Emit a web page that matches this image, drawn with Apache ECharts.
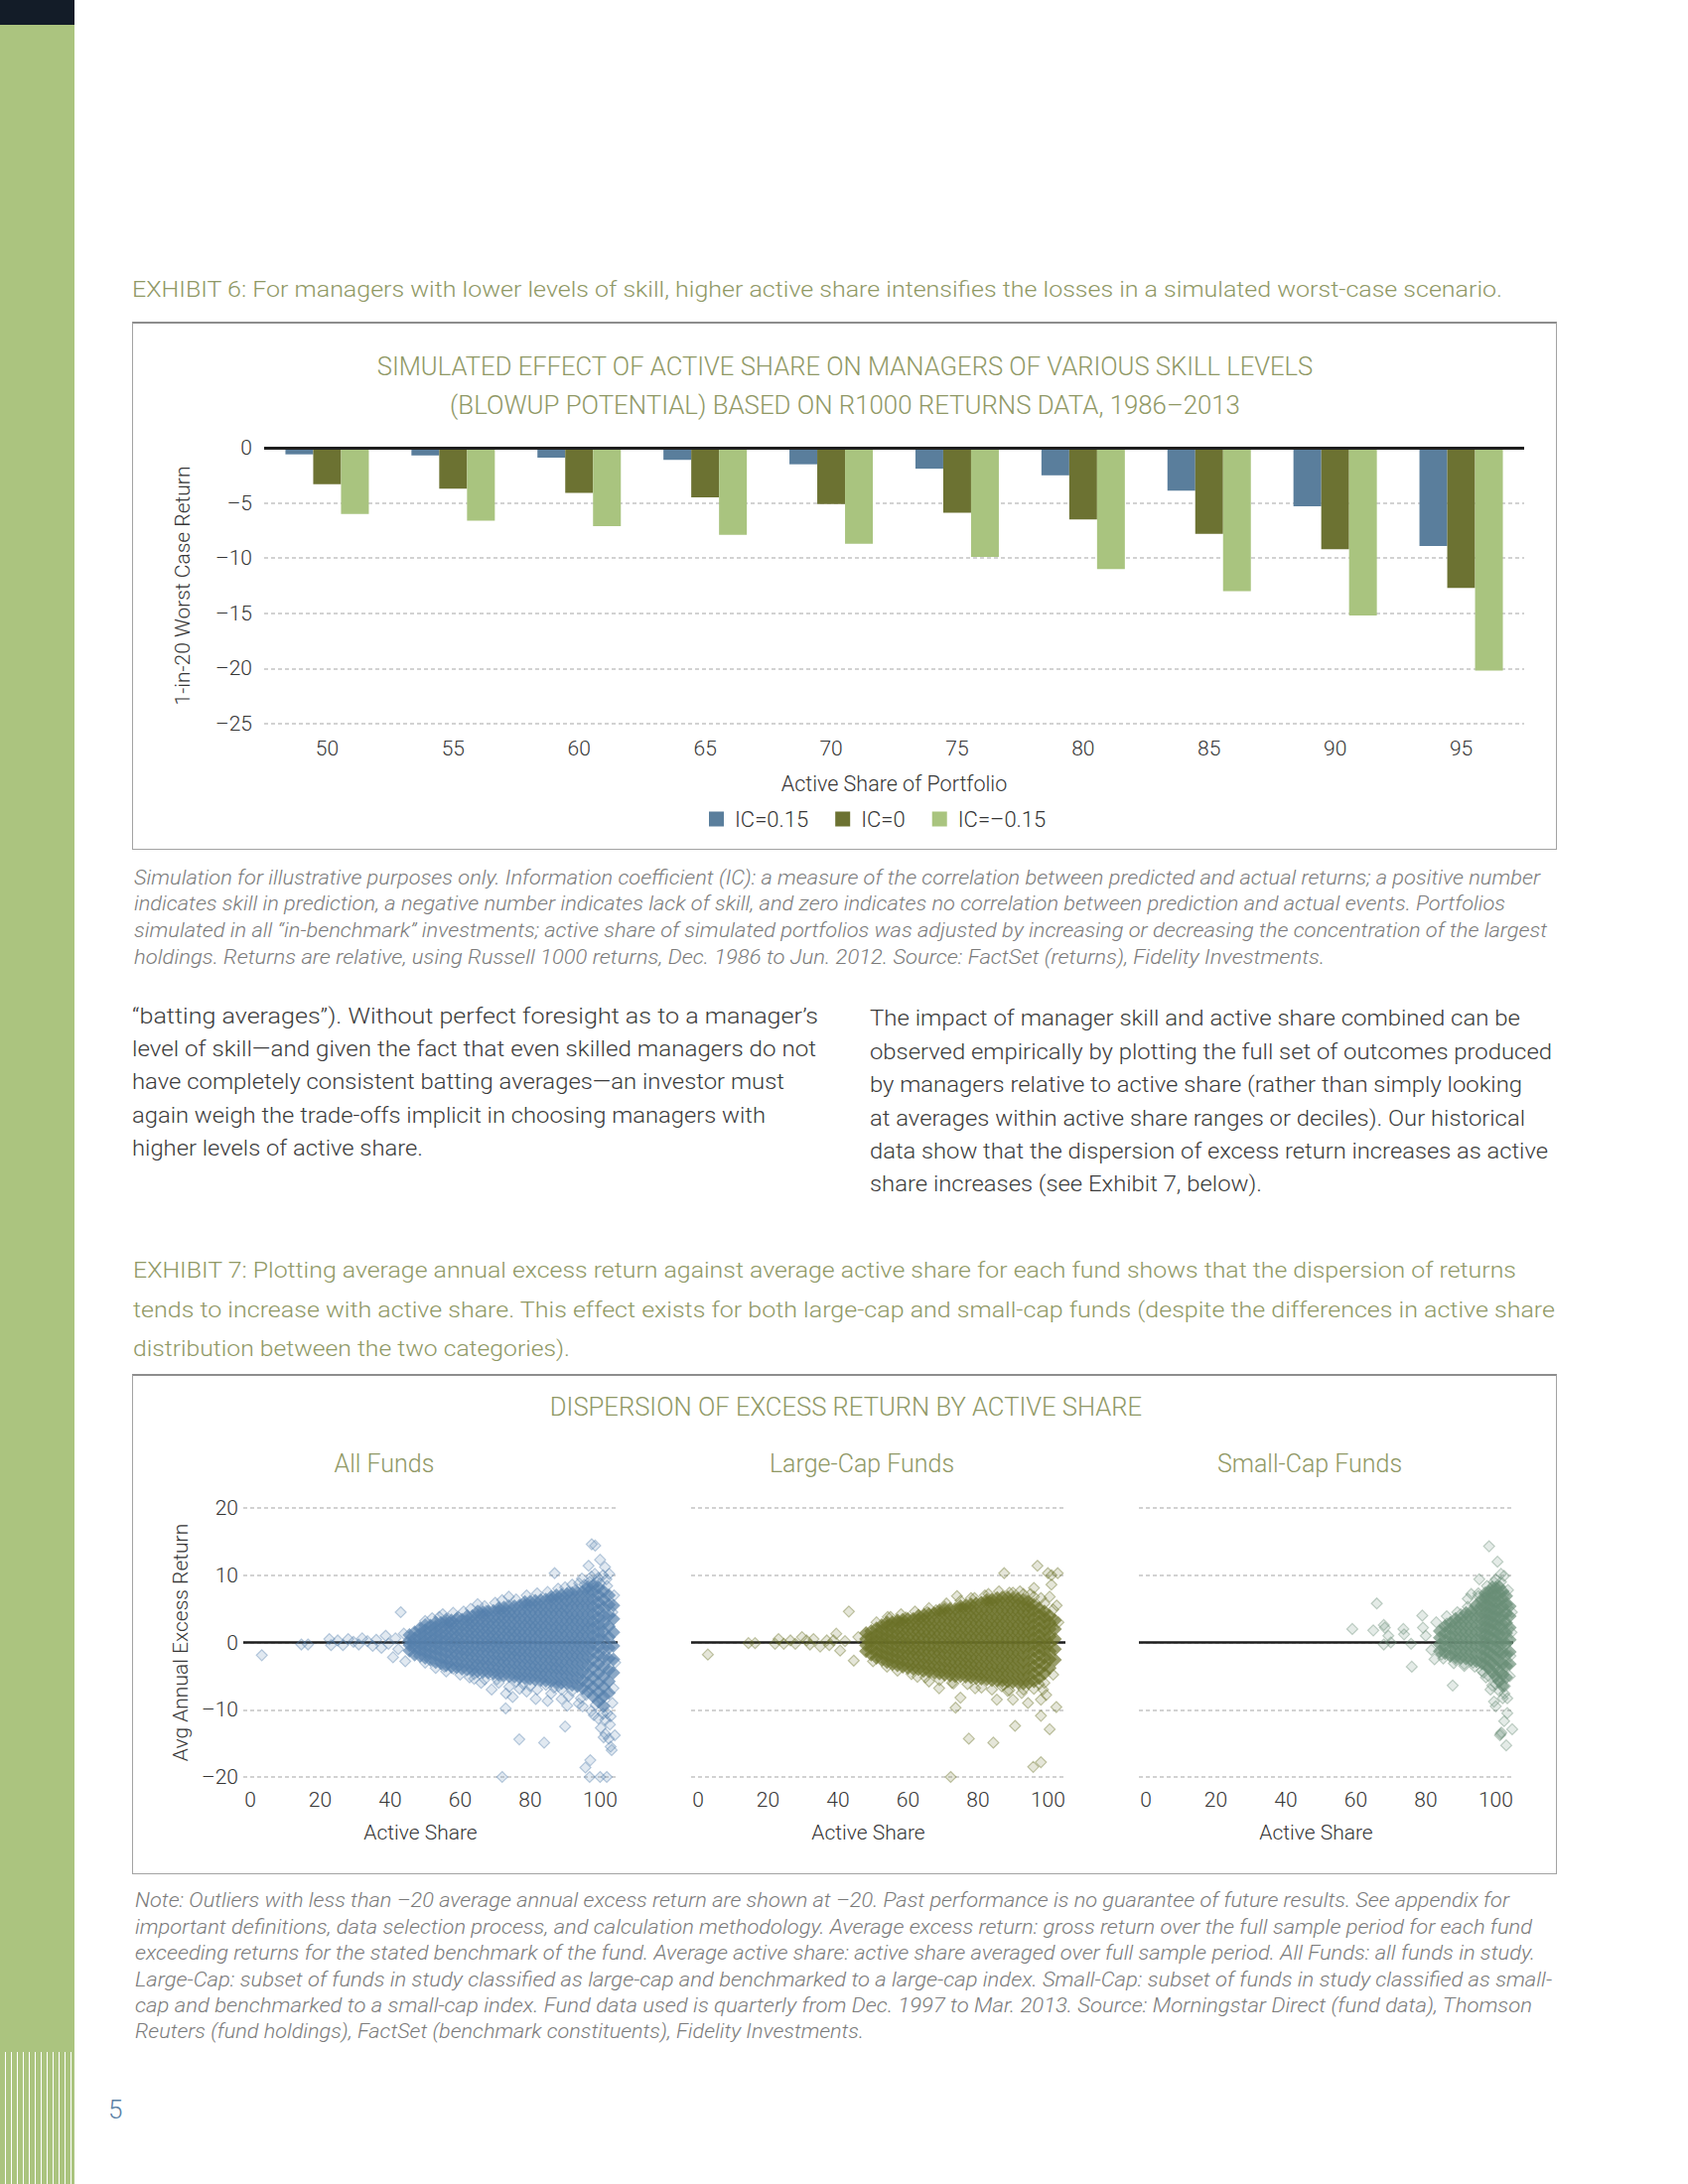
<!DOCTYPE html>
<html>
<head>
<meta charset="utf-8">
<script src="https://cdn.jsdelivr.net/npm/echarts@6/dist/echarts.min.js"></script>
<style>
html,body{margin:0;padding:0;background:#fff;}
#page{position:relative;width:1700px;height:2200px;overflow:hidden;font-family:Roboto,"Noto Sans",sans-serif;}
#chart{position:absolute;left:0;top:0;width:1700px;height:2200px;z-index:2;}
.side{position:absolute;left:0;top:0;width:75px;height:2200px;background:#abc47f;}
.sideTop{position:absolute;left:0;top:0;width:75px;height:25px;background:#131c28;}
.stripes{position:absolute;left:0;top:2067px;width:75px;height:133px;background:repeating-linear-gradient(90deg,#abc47f 0px,#abc47f 4.6px,#ffffff 4.6px,#ffffff 6px);}
.box{position:absolute;box-sizing:border-box;border:1.5px solid #a3a3a3;border-top:2px solid #8d8d8d;}
.ln{position:absolute;white-space:nowrap;transform-origin:0 50%;line-height:1;z-index:3;}
.hd{font-size:21.5px;font-weight:300;color:#8f9865;}
.cap{font-size:19.5px;font-weight:300;font-style:italic;color:#7b7b7b;}
.body{font-size:22px;font-weight:300;color:#3b3b3b;}
.pg{font-size:26px;font-weight:300;color:#5b80a5;}
</style>
</head>
<body>
<div id="page">
  <div class="side"></div>
  <div class="sideTop"></div>
  <div class="stripes"></div>
  <div class="box" style="left:133px;top:324px;width:1435px;height:532px;"></div>
  <div class="box" style="left:133px;top:1384px;width:1435px;height:504px;"></div>
  <div id="chart"></div>
</div>
<script>
// ---------------- DATA: Exhibit 6 (bar chart) ----------------
const categories = ['50', '55', '60', '65', '70', '75', '80', '85', '90', '95'];
const seriesNames = ['IC=0.15', 'IC=0', 'IC=\u20130.15'];
const icPositive = [-0.6, -0.7, -0.9, -1.1, -1.5, -1.9, -2.5, -3.9, -5.3, -8.9];
const icZero = [-3.3, -3.7, -4.1, -4.5, -5.1, -5.9, -6.5, -7.8, -9.2, -12.7];
const icNegative = [-6.0, -6.6, -7.1, -7.9, -8.7, -9.9, -11.0, -13.0, -15.2, -20.2];
const barYTicks = { min: -25, max: 0, interval: 5 };

// ---------------- DATA: Exhibit 7 (scatter panels) ----------------
const scatterXTicks = [0, 20, 40, 60, 80, 100];
const panelTitles = ['All Funds', 'Large-Cap Funds', 'Small-Cap Funds'];

// dense core read column by column: [active share, [excess returns...]]
const allFundsCore = [
  [45.5, [-1.2, -0.4, 0.3, 1.1]],
  [47.0, [-1.8, -0.9, -0.2, 0.6, 1.5]],
  [48.5, [-2.0, -1.1, -0.3, 0.5, 1.3, 2.1]],
  [50.0, [-2.3, -1.4, -0.6, 0.2, 1.0, 1.8, 2.6]],
  [51.5, [-2.6, -1.7, -0.8, 0.1, 0.9, 1.7, 2.5]],
  [53.0, [-2.9, -1.9, -1.0, -0.2, 0.7, 1.5, 2.3, 3.0]],
  [54.5, [-3.1, -2.2, -1.3, -0.4, 0.4, 1.2, 2.1, 2.9]],
  [56.0, [-3.4, -2.5, -1.5, -0.6, 0.3, 1.1, 2.0, 2.8, 3.4]],
  [57.5, [-3.6, -2.6, -1.7, -0.8, 0.1, 1.0, 1.8, 2.7, 3.3]],
  [59.0, [-3.7, -2.8, -1.8, -0.9, 0.0, 0.9, 1.8, 2.6, 3.5]],
  [60.5, [-3.9, -3.0, -2.0, -1.1, -0.2, 0.7, 1.6, 2.5, 3.4]],
  [62.0, [-4.0, -3.1, -2.1, -1.2, -0.3, 0.6, 1.5, 2.4, 3.2, 3.9]],
  [63.5, [-4.1, -3.2, -2.2, -1.3, -0.4, 0.5, 1.4, 2.3, 3.1, 3.9]],
  [65.0, [-4.3, -3.3, -2.4, -1.4, -0.5, 0.4, 1.3, 2.2, 3.1, 4.0, 4.6]],
  [66.5, [-4.4, -3.4, -2.5, -1.5, -0.6, 0.3, 1.2, 2.1, 3.0, 3.9, 4.5]],
  [68.0, [-4.5, -3.5, -2.6, -1.6, -0.7, 0.2, 1.1, 2.0, 2.9, 3.8, 4.6]],
  [69.5, [-4.6, -3.7, -2.7, -1.7, -0.8, 0.1, 1.0, 1.9, 2.8, 3.7, 4.7]],
  [71.0, [-4.8, -3.8, -2.8, -1.9, -0.9, 0.0, 0.9, 1.8, 2.8, 3.7, 4.6, 5.1]],
  [72.5, [-4.9, -3.9, -2.9, -2.0, -1.0, -0.1, 0.8, 1.8, 2.7, 3.6, 4.5, 5.2]],
  [74.0, [-5.0, -4.0, -3.0, -2.0, -1.1, -0.2, 0.8, 1.7, 2.6, 3.6, 4.5, 5.4]],
  [75.5, [-5.1, -4.1, -3.1, -2.1, -1.2, -0.3, 0.7, 1.6, 2.6, 3.5, 4.4, 5.4]],
  [77.0, [-5.2, -4.2, -3.2, -2.2, -1.3, -0.3, 0.6, 1.6, 2.5, 3.5, 4.5, 5.5]],
  [78.5, [-5.3, -4.3, -3.3, -2.3, -1.3, -0.4, 0.6, 1.5, 2.5, 3.5, 4.5, 5.5, 6.0]],
  [80.0, [-5.4, -4.4, -3.4, -2.4, -1.4, -0.4, 0.5, 1.5, 2.5, 3.4, 4.4, 5.4, 6.1]],
  [81.5, [-5.5, -4.5, -3.5, -2.5, -1.5, -0.5, 0.5, 1.5, 2.4, 3.4, 4.4, 5.4, 6.2]],
  [83.0, [-5.6, -4.6, -3.6, -2.6, -1.6, -0.6, 0.4, 1.4, 2.4, 3.4, 4.4, 5.4, 6.3]],
  [84.5, [-5.7, -4.6, -3.6, -2.6, -1.6, -0.6, 0.4, 1.4, 2.4, 3.4, 4.4, 5.4, 6.4]],
  [86.0, [-5.8, -4.7, -3.7, -2.7, -1.7, -0.7, 0.3, 1.3, 2.3, 3.3, 4.3, 5.3, 6.3, 6.8]],
  [87.5, [-5.9, -4.8, -3.8, -2.8, -1.8, -0.8, 0.3, 1.3, 2.3, 3.3, 4.3, 5.3, 6.3, 7.0]],
  [89.0, [-6.0, -4.9, -3.9, -2.9, -1.8, -0.8, 0.2, 1.2, 2.2, 3.2, 4.3, 5.3, 6.3, 7.1]],
  [90.5, [-6.1, -5.0, -4.0, -2.9, -1.9, -0.9, 0.2, 1.2, 2.2, 3.2, 4.2, 5.2, 6.2, 7.2]],
  [92.0, [-6.3, -5.2, -4.1, -3.0, -2.0, -0.9, 0.1, 1.1, 2.2, 3.2, 4.2, 5.3, 6.3, 7.3]],
  [93.5, [-6.5, -5.3, -4.2, -3.1, -2.0, -1.0, 0.1, 1.1, 2.1, 3.2, 4.2, 5.3, 6.3, 7.4]],
  [95.0, [-6.8, -5.6, -4.4, -3.2, -2.1, -1.0, 0.0, 1.1, 2.1, 3.1, 4.2, 5.3, 6.4, 7.5]],
  [96.5, [-7.3, -6.0, -4.7, -3.4, -2.2, -1.1, 0.0, 1.0, 2.1, 3.1, 4.2, 5.3, 6.4, 7.5, 8.3]],
  [98.0, [-8.0, -6.6, -5.2, -3.8, -2.5, -1.2, -0.1, 1.0, 2.1, 3.1, 4.2, 5.3, 6.4, 7.5, 8.5]],
  [99.5, [-8.8, -7.4, -6.0, -4.6, -3.2, -1.9, -0.7, 0.5, 1.6, 2.7, 3.8, 4.9, 6.0, 7.1, 8.2]],
  [101.0, [-9.5, -8.0, -6.6, -5.1, -3.6, -2.2, -0.9, 0.4, 1.6, 2.8, 4.0, 5.2, 6.4, 7.6]],
  [102.5, [-7.5, -5.8, -4.1, -2.4, -0.8, 0.8, 2.4, 4.0, 5.6, 7.0]],
  [103.8, [-4.5, -2.5, -0.5, 1.5, 3.5, 5.5]]
];
// individual (sparse) funds, edge funds and outliers: [active share, excess return]
const allFundsSparse = [
  [3.3, -1.9], [14.6, -0.3], [16.5, -0.3], [22.6, 0.5], [23.1, -0.4], [25, 0.3], [26.5, -0.4], [28, 0.5],
  [29.5, 0.1], [31, -0.3], [32, 0.6], [33.5, 0.2], [35, -0.5], [36, 0.4], [37.5, -0.8], [38.7, 1.0],
  [39.5, -0.2], [40.8, -2.2], [41.5, 0.6], [42.3, -1.0], [43, 4.5], [43.9, 1.3], [44.3, -2.8], [45, 0.0],
  [54, 3.8], [55.5, -3.6], [57, 3.0], [58, -3.9], [59.4, 3.8], [62.7, -5.2], [64, -4.7], [65, 5.7],
  [66, -6.0], [67.5, 4.7], [69, -7.0], [70.5, -5.5], [73.1, -7.6], [73, -9.8], [73.9, 6.8], [75, -8.1],
  [76, -5.8], [76.9, -14.4], [78, -6.2], [80, -6.5], [81.6, -8.4], [84, -14.9], [84.5, -6.3], [72, -20],
  [85, -8.7], [86.8, -6.7], [87, 10.3], [88, -6.5], [89, -8.4], [90.6, -9.4], [90, -12.5], [91, 7.5],
  [92, -7.2], [93, 7.8], [93.9, -9.1], [94.5, -8.3], [94.8, 9.5], [95.5, 8.6], [96, -7.8], [96.2, 8.0],
  [96.7, 11.4], [97.5, 9.8], [97.6, 14.6], [98.6, 14.4], [98.5, 10.2], [99, 9.0], [99.5, 9.6], [100, 12.3],
  [100.8, 10.0], [101.4, 11.2], [101.8, 9.4], [102.6, 10.2], [97.2, -17.5], [95.8, -18.6], [97, -20], [100, -20],
  [101.9, -20], [100.2, -12.7], [101.5, -13.6], [103, -11], [101, -14.1], [102.5, -14.3], [103, -15.5], [103.3, -16],
  [104.2, -13.8], [98.2, -10.8], [98.7, -9.3], [100.5, -8.4], [102, -10.5], [103.5, -9], [99.5, -11.3], [100.8, -10.6],
  [104, 7], [103.8, -6.8], [103.5, 4.5], [104.3, -3],
  [50, 3.2], [52, 3.6], [55, 4.2], [58, 4.4], [61, 4.6], [63, 5.0], [67, 5.4], [70, 5.9],
  [72, 6.3], [76, 6.4], [79, 7.0], [82, 7.3], [85, 7.5], [88, 8.0], [90, 8.2], [92, 8.6],
  [94, 8.8], [97, 9.0], [100, 8.8], [102, 8.4],
  [50, -3.0], [53, -3.8], [56, -4.3], [60, -4.8], [64, -5.4], [67, -5.5], [71, -6.0], [74, -6.6],
  [77, -6.9], [79, -7.3], [82, -7.0], [86, -7.6], [89, -7.0], [91, -8.0], [95, -9.5], [97.5, -10.2],
  [101.5, -11.5], [102.8, -12.2]
];

const largeCapCore = [
  [48.0, [-1.3, -0.4, 0.5, 1.4]],
  [49.5, [-1.8, -0.9, 0.0, 0.8, 1.7]],
  [51.0, [-2.3, -1.4, -0.5, 0.4, 1.2, 2.1]],
  [52.5, [-2.6, -1.7, -0.8, 0.1, 0.9, 1.8, 2.6]],
  [54.0, [-2.9, -2.0, -1.1, -0.2, 0.7, 1.5, 2.4, 3.0]],
  [55.5, [-3.2, -2.3, -1.4, -0.5, 0.4, 1.3, 2.2, 3.0]],
  [57.0, [-3.4, -2.5, -1.6, -0.7, 0.2, 1.1, 2.0, 2.9, 3.3]],
  [58.5, [-3.6, -2.7, -1.8, -0.9, 0.1, 1.0, 1.9, 2.8, 3.4]],
  [60.0, [-3.8, -2.9, -1.9, -1.0, -0.1, 0.8, 1.8, 2.7, 3.5]],
  [61.5, [-3.9, -3.0, -2.0, -1.1, -0.2, 0.7, 1.7, 2.6, 3.5]],
  [63.0, [-4.0, -3.1, -2.1, -1.2, -0.3, 0.7, 1.6, 2.5, 3.4, 4.0]],
  [64.5, [-4.2, -3.2, -2.3, -1.3, -0.4, 0.6, 1.5, 2.5, 3.4, 4.1]],
  [66.0, [-4.3, -3.4, -2.4, -1.4, -0.5, 0.5, 1.4, 2.4, 3.3, 4.2]],
  [67.5, [-4.5, -3.5, -2.5, -1.5, -0.6, 0.4, 1.4, 2.3, 3.3, 4.3]],
  [69.0, [-4.6, -3.6, -2.6, -1.6, -0.7, 0.3, 1.3, 2.3, 3.3, 4.3, 4.8]],
  [70.5, [-4.8, -3.8, -2.8, -1.8, -0.8, 0.2, 1.2, 2.2, 3.2, 4.2, 4.9]],
  [72.0, [-4.9, -3.9, -2.9, -1.9, -0.9, 0.1, 1.1, 2.1, 3.1, 4.1, 5.0]],
  [73.5, [-5.0, -4.0, -3.0, -2.0, -1.0, 0.0, 1.0, 2.0, 3.0, 4.0, 5.0]],
  [75.0, [-5.0, -4.0, -3.0, -2.0, -1.0, 0.0, 1.0, 2.0, 3.0, 4.0, 5.0, 5.4]],
  [76.5, [-5.1, -4.1, -3.1, -2.1, -1.1, -0.1, 0.9, 1.9, 2.9, 3.9, 4.9, 5.5]],
  [78.0, [-5.2, -4.2, -3.2, -2.2, -1.2, -0.2, 0.9, 1.9, 2.9, 3.9, 4.9, 5.7]],
  [79.5, [-5.3, -4.3, -3.3, -2.3, -1.2, -0.2, 0.8, 1.8, 2.8, 3.8, 4.8, 5.8]],
  [81.0, [-5.4, -4.4, -3.4, -2.3, -1.3, -0.3, 0.8, 1.8, 2.8, 3.8, 4.8, 5.9]],
  [82.5, [-5.5, -4.5, -3.4, -2.4, -1.3, -0.3, 0.7, 1.7, 2.7, 3.8, 4.8, 5.9, 6.3]],
  [84.0, [-5.6, -4.5, -3.5, -2.4, -1.4, -0.4, 0.7, 1.7, 2.7, 3.7, 4.8, 5.8, 6.4]],
  [85.5, [-5.7, -4.6, -3.6, -2.5, -1.4, -0.4, 0.6, 1.7, 2.7, 3.7, 4.8, 5.8, 6.6]],
  [87.0, [-5.7, -4.6, -3.6, -2.5, -1.5, -0.4, 0.6, 1.6, 2.7, 3.7, 4.7, 5.8, 6.7]],
  [88.5, [-5.8, -4.7, -3.6, -2.6, -1.5, -0.5, 0.6, 1.6, 2.6, 3.7, 4.7, 5.7, 6.7]],
  [90.0, [-5.9, -4.8, -3.7, -2.6, -1.6, -0.5, 0.5, 1.6, 2.6, 3.6, 4.7, 5.7, 6.6]],
  [91.5, [-6.0, -4.9, -3.8, -2.7, -1.6, -0.5, 0.5, 1.5, 2.6, 3.6, 4.6, 5.6, 6.5]],
  [93.0, [-6.1, -5.0, -3.9, -2.8, -1.7, -0.6, 0.5, 1.5, 2.5, 3.5, 4.5, 5.5, 6.3]],
  [94.5, [-6.0, -4.9, -3.8, -2.7, -1.6, -0.5, 0.5, 1.5, 2.5, 3.5, 4.5, 5.4, 6.1]],
  [96.0, [-5.8, -4.6, -3.5, -2.4, -1.3, -0.3, 0.7, 1.7, 2.7, 3.7, 4.7, 5.6]],
  [97.5, [-5.3, -4.1, -3.0, -1.9, -0.9, 0.1, 1.1, 2.1, 3.1, 4.1, 5.1]],
  [99.0, [-4.6, -3.4, -2.3, -1.2, -0.2, 0.8, 1.8, 2.8, 3.8, 4.6]],
  [100.5, [-3.8, -2.5, -1.3, -0.2, 0.9, 2.0, 3.0, 4.0]],
  [102.0, [-2.6, -1.0, 0.5, 2.0, 3.3]]
];
const largeCapSparse = [
  [2.8, -1.8], [14.4, -0.1], [16.3, -0.1], [22, -0.2], [23, 0.5], [24.5, -0.2], [26.4, 0.3], [27.8, -0.2],
  [29.7, 0.8], [31, 0.3], [32, -0.3], [33, 0.5], [34.9, -0.6], [36.8, 0.3], [37.5, -0.4], [38.7, 0.3],
  [39.5, 1.3], [40.6, -1.2], [42, 0.2], [43.1, 4.6], [44.5, -2.7], [45.8, 0.8],
  [54.2, 3.8], [59.4, 3.7], [65.5, 4.5], [68, 4.8], [70.5, 5.3], [74, 6.9], [79, 6.6], [82, 7],
  [87.5, 10.3], [89, 7.4], [92, 7.6], [95, 7.2], [96, 8.1], [97, 11.4], [98, 6.6], [100, 10.3],
  [100.5, 6.8], [101, 10], [101, 8.6], [102.8, 10.3], [102.5, 5.5], [103, 3],
  [62.7, -5.1], [66, -5.8], [68.9, -6.8], [72.6, -6], [73.6, -9.7], [75, -8.2], [77.4, -14.3], [79.2, -6.8],
  [84.4, -14.9], [72.2, -20], [85.4, -8.5], [86.8, -6.5], [87.3, -6.3], [88.5, -7.2], [90, -8.5], [90.6, -12.4],
  [92.5, -7.5], [94.3, -9], [95.8, -18.5], [97.5, -6.2], [98, -17.8], [98, -10.9], [98, -8.5], [98.6, -7],
  [99.5, -7.8], [100.5, -12.9], [102.4, -9.6],
  [51, 3.0], [55, 3.8], [58, 4.2], [62, 4.6], [66, 5.1], [71, 5.8], [75, 6.2], [78, 6.6],
  [83, 7.2], [86, 7.6], [90, 7.4], [93, 7.2], [96, 6.8], [99, 5.8], [101.5, 4.9],
  [50, -2.8], [54, -3.6], [57, -4.2], [61, -4.7], [65, -5.2], [69, -5.6], [73, -6.1], [77, -6.2],
  [81, -6.7], [84, -7.0], [89, -7.1], [93, -7.0], [96, -6.9], [99, -6.0], [101.5, -4.8]
];

const smallCapCore = [
  [84.0, [-1.3, -0.3, 0.7, 1.7]],
  [85.5, [-1.6, -0.6, 0.4, 1.4, 2.4]],
  [87.0, [-2.0, -1.0, 0.0, 1.0, 2.0, 2.9]],
  [88.5, [-2.2, -1.2, -0.2, 0.8, 1.8, 2.8, 3.5]],
  [90.0, [-2.3, -1.3, -0.3, 0.7, 1.7, 2.7, 3.6]],
  [91.5, [-2.4, -1.4, -0.4, 0.6, 1.6, 2.6, 3.6, 4.4]],
  [93.0, [-2.6, -1.5, -0.5, 0.5, 1.5, 2.6, 3.6, 4.6]],
  [94.5, [-2.8, -1.7, -0.6, 0.4, 1.5, 2.5, 3.6, 4.6, 5.5]],
  [96.0, [-3.1, -2.0, -0.9, 0.2, 1.2, 2.3, 3.4, 4.4, 5.5, 6.4]],
  [97.0, [-3.4, -2.3, -1.1, 0.0, 1.1, 2.2, 3.3, 4.4, 5.5, 6.6, 7.3]],
  [98.0, [-3.8, -2.6, -1.4, -0.2, 1.0, 2.1, 3.2, 4.3, 5.4, 6.5, 7.5]],
  [99.0, [-4.4, -3.1, -1.8, -0.6, 0.6, 1.8, 2.9, 4.0, 5.1, 6.2, 7.3, 8.2]],
  [100.0, [-5.0, -3.6, -2.3, -1.0, 0.3, 1.5, 2.7, 3.9, 5.0, 6.1, 7.2, 8.1]],
  [101.0, [-5.8, -4.3, -2.8, -1.4, 0.0, 1.3, 2.6, 3.8, 5.0, 6.2, 7.3, 8.3]],
  [102.0, [-6.5, -4.8, -3.2, -1.6, -0.1, 1.3, 2.7, 4.0, 5.3, 6.5, 7.6]],
  [103.0, [-5.2, -3.5, -1.8, -0.2, 1.4, 2.9, 4.3, 5.7, 6.9]],
  [104.0, [-3.2, -1.4, 0.4, 2.2, 3.9, 5.4]]
];
const smallCapSparse = [
  [59, 2], [65, 1.8], [66, 5.8], [68, 2.6], [68.3, 2.2], [69.3, 1], [68, -0.3], [70, 0],
  [73.6, 2], [73.8, 1.2], [75.8, -0.2], [76, -3.6], [79, 4], [79.2, 2.2], [80, 1], [81.6, -1.1],
  [82.5, -2.5], [83, 3], [84.5, -1.8], [86, 2.8], [87.7, -6.4], [88.5, -2.6], [90, 4.2], [91, -3.5],
  [92, 6.5], [93, 7.2], [93.5, -3], [94, 5.5], [95, 6.9], [95.3, 9.4], [96.5, -4.5], [97.2, -5.2],
  [98.1, 14.3], [98.5, -7], [99, -6.4], [99.5, -8.8], [100, 9.4], [100, -9.5], [100.5, 12], [100.5, -5.5],
  [101, -7.2], [101.2, -13.8], [101.4, -13.6], [101.5, 10.2], [101.6, -13.4], [102, -8.3], [102.4, 9.9], [102.4, -11.7],
  [102.6, -6.5], [103, -15.3], [103.3, -10.5], [103.3, -8.3], [104.2, -2], [104.5, 1.5], [104.6, 4.5], [104.7, -12.9],
  [86, 3.9], [89, 4.5], [92, 5.3], [95, 7.3], [97.5, 8.4], [99.5, 9.0], [101.5, 9.0], [103.5, 7.8],
  [85, -2.4], [88, -3.1], [91, -3.2], [94, -3.6], [96, -4.2], [98, -5.0], [100, -6.2], [102.5, -7.6], [104, -5.0]
];

// ---------------- helpers ----------------
function expandColumns(cols) {
  const out = [];
  cols.forEach(function (c) { c[1].forEach(function (y) { out.push([c[0], y]); }); });
  return out;
}
function dashLabel(v) { return v < 0 ? '\u2013' + Math.abs(v) : String(v); }

const FONT = 'Roboto, "Noto Sans", sans-serif';
const OLIVE = '#8f9865';
const TXT = '#363636';
const barColors = ['#5a7e9c', '#6c7232', '#a9c47f'];
const panelColors = [[85, 128, 173], [106, 112, 38], [104, 141, 118]];
const gridLefts = [245, 696, 1147];
const rgba = function (c, a) { return 'rgba(' + c[0] + ',' + c[1] + ',' + c[2] + ',' + a + ')'; };

const chart = echarts.init(document.getElementById('chart'), null, { renderer: 'svg', width: 1700, height: 2200 });

const grids = [{ left: 266, top: 451, width: 1269, height: 278 }];
const xAxes = [{
  gridIndex: 0, type: 'category', data: categories,
  axisLine: { show: false }, axisTick: { show: false },
  axisLabel: { fontSize: 21, color: TXT, margin: 14, fontFamily: FONT, fontWeight: 300 },
  name: 'Active Share of Portfolio', nameLocation: 'middle', nameGap: 49,
  nameTextStyle: { fontSize: 21.5, color: TXT, fontFamily: FONT, fontWeight: 300 }
}];
const yAxes = [{
  gridIndex: 0, type: 'value', min: barYTicks.min, max: barYTicks.max, interval: barYTicks.interval,
  axisLine: { show: false }, axisTick: { show: false },
  splitLine: { lineStyle: { color: '#c4c4c4', type: [4, 3], width: 1.6 } },
  axisLabel: { formatter: dashLabel, fontSize: 21, color: TXT, margin: 12, fontFamily: FONT, fontWeight: 300 },
  name: '1-in-20 Worst Case Return', nameLocation: 'middle', nameGap: 72,
  nameTextStyle: { fontSize: 21, color: TXT, fontFamily: FONT, fontWeight: 300 }
}];

const barData = [icPositive, icZero, icNegative];
const series = barData.map(function (d, i) {
  const s = {
    type: 'bar', name: seriesNames[i], data: d, xAxisIndex: 0, yAxisIndex: 0,
    barWidth: 28, barGap: '0%', itemStyle: { color: barColors[i] }, z: 2
  };
  if (i === 2) {
    s.markLine = { silent: true, symbol: ['none', 'none'], label: { show: false },
      lineStyle: { color: '#1e1e1e', width: 3, type: 'solid' }, data: [{ yAxis: 0 }] };
  }
  return s;
});

const coreSets = [allFundsCore, largeCapCore, smallCapCore];
const sparseSets = [allFundsSparse, largeCapSparse, smallCapSparse];

for (let p = 0; p < 3; p++) {
  const gi = p + 1;
  grids.push({ left: gridLefts[p], top: 1519, width: 377, height: 271 });
  xAxes.push({
    gridIndex: gi, type: 'value', min: -2, max: 105,
    axisLine: { show: false }, axisTick: { show: false }, splitLine: { show: false },
    axisLabel: { customValues: scatterXTicks, fontSize: 21, color: TXT, margin: 12, fontFamily: FONT, fontWeight: 300 },
    name: 'Active Share', nameLocation: 'middle', nameGap: 45,
    nameTextStyle: { fontSize: 21, color: TXT, fontFamily: FONT, fontWeight: 300, padding: [0, 20, 0, 0] }
  });
  yAxes.push({
    gridIndex: gi, type: 'value', min: -20, max: 20, interval: 10,
    axisLine: { show: false }, axisTick: { show: false },
    splitLine: { lineStyle: { color: '#c4c4c4', type: [4, 3], width: 1.6 } },
    axisLabel: { show: p === 0, formatter: dashLabel, fontSize: 21, color: TXT, margin: 5, fontFamily: FONT, fontWeight: 300 },
    name: p === 0 ? 'Avg Annual Excess Return' : '', nameLocation: 'middle', nameGap: 53,
    nameTextStyle: { fontSize: 21, color: TXT, fontFamily: FONT, fontWeight: 300 }
  });
  const col = panelColors[p];
  series.push({
    type: 'scatter', data: [], xAxisIndex: gi, yAxisIndex: gi, z: 1, silent: true,
    markLine: { z: 1, silent: true, symbol: ['none', 'none'], label: { show: false },
      lineStyle: { color: '#1e1e1e', width: 2.6, type: 'solid' }, data: [{ yAxis: 0 }] }
  });
  series.push({
    type: 'scatter', data: expandColumns(coreSets[p]), xAxisIndex: gi, yAxisIndex: gi, z: 3,
    symbol: 'diamond', symbolSize: 14, clip: false,
    itemStyle: { color: rgba(col, 0.85), borderWidth: 0 }
  });
  series.push({
    type: 'scatter', data: sparseSets[p], xAxisIndex: gi, yAxisIndex: gi, z: 4,
    symbol: 'diamond', symbolSize: 11, clip: false,
    itemStyle: { color: rgba(col, 0.22), borderColor: rgba(col, 0.5), borderWidth: 1.2 }
  });
}

const titleStyle = function (txt, x, y, size) {
  return { type: 'text', x: x, y: y, silent: true,
    style: { text: txt, fill: OLIVE, fontSize: size, fontFamily: FONT, fontWeight: 300, align: 'center', verticalAlign: 'middle' } };
};
const graphics = [
  titleStyle('SIMULATED EFFECT OF ACTIVE SHARE ON MANAGERS OF VARIOUS SKILL LEVELS', 851, 369, 25.6),
  titleStyle('(BLOWUP POTENTIAL) BASED ON R1000 RETURNS DATA, 1986\u20132013', 851, 408, 25.8),
  titleStyle('DISPERSION OF EXCESS RETURN BY ACTIVE SHARE', 852, 1417, 25.6),
  titleStyle(panelTitles[0], 387, 1474, 25),
  titleStyle(panelTitles[1], 868, 1474, 25),
  titleStyle(panelTitles[2], 1319, 1474, 25)
];

chart.setOption({
  animation: false,
  textStyle: { fontFamily: FONT },
  grid: grids, xAxis: xAxes, yAxis: yAxes, series: series, graphic: graphics,
  legend: {
    data: seriesNames, left: 714, top: 814, padding: 0, itemWidth: 15, itemHeight: 15, itemGap: 27,
    icon: 'rect', selectedMode: false,
    textStyle: { fontSize: 22, color: TXT, fontFamily: FONT, fontWeight: 300, padding: [0, 0, 0, 6] }
  }
});

// ---------------- page text (HTML) ----------------
// [class, left x, center y, target width, text]
const pageLines = [
  ['hd', 133, 292, 1380, 'EXHIBIT 6: For managers with lower levels of skill, higher active share intensifies the losses in a simulated worst-case scenario.'],
  ['cap', 135, 885, 1416, 'Simulation for illustrative purposes only. Information coefficient (IC): a measure of the correlation between predicted and actual returns; a positive number'],
  ['cap', 135, 911, 1381, 'indicates skill in prediction, a negative number indicates lack of skill, and zero indicates no correlation between prediction and actual events. Portfolios'],
  ['cap', 135, 938, 1423, 'simulated in all \u201cin-benchmark\u201d investments; active share of simulated portfolios was adjusted by increasing or decreasing the concentration of the largest'],
  ['cap', 135, 965, 1199, 'holdings. Returns are relative, using Russell 1000 returns, Dec. 1986 to Jun. 2012. Source: FactSet (returns), Fidelity Investments.'],
  ['body', 133, 1024, 691, '\u201cbatting averages\u201d). Without perfect foresight as to a manager\u2019s'],
  ['body', 133, 1057, 689, 'level of skill\u2014and given the fact that even skilled managers do not'],
  ['body', 133, 1090, 657, 'have completely consistent batting averages\u2014an investor must'],
  ['body', 133, 1124, 638, 'again weigh the trade-offs implicit in choosing managers with'],
  ['body', 133, 1157, 293, 'higher levels of active share.'],
  ['body', 876, 1026, 655, 'The impact of manager skill and active share combined can be'],
  ['body', 876, 1060, 687, 'observed empirically by plotting the full set of outcomes produced'],
  ['body', 876, 1093, 657, 'by managers relative to active share (rather than simply looking'],
  ['body', 876, 1127, 660, 'at averages within active share ranges or deciles). Our historical'],
  ['body', 876, 1160, 683, 'data show that the dispersion of excess return increases as active'],
  ['body', 876, 1193, 395, 'share increases (see Exhibit 7, below).'],
  ['hd', 134, 1280, 1393, 'EXHIBIT 7: Plotting average annual excess return against average active share for each fund shows that the dispersion of returns'],
  ['hd', 134, 1320, 1432, 'tends to increase with active share. This effect exists for both large-cap and small-cap funds (despite the differences in active share'],
  ['hd', 134, 1359, 440, 'distribution between the two categories).'],
  ['cap', 136, 1915, 1384, 'Note: Outliers with less than \u201320 average annual excess return are shown at \u201320. Past performance is no guarantee of future results. See appendix for'],
  ['cap', 136, 1942, 1407, 'important definitions, data selection process, and calculation methodology. Average excess return: gross return over the full sample period for each fund'],
  ['cap', 136, 1968, 1410, 'exceeding returns for the stated benchmark of the fund. Average active share: active share averaged over full sample period. All Funds: all funds in study.'],
  ['cap', 136, 1995, 1427, 'Large-Cap: subset of funds in study classified as large-cap and benchmarked to a large-cap index. Small-Cap: subset of funds in study classified as small-'],
  ['cap', 136, 2021, 1407, 'cap and benchmarked to a small-cap index. Fund data used is quarterly from Dec. 1997 to Mar. 2013. Source: Morningstar Direct (fund data), Thomson'],
  ['cap', 136, 2047, 734, 'Reuters (fund holdings), FactSet (benchmark constituents), Fidelity Investments.'],
  ['pg', 109, 2126, 0, '5']
];
const page = document.getElementById('page');
const els = [];
pageLines.forEach(function (l) {
  const d = document.createElement('div');
  d.className = 'ln ' + l[0];
  d.textContent = l[4];
  d.style.left = l[1] + 'px';
  page.appendChild(d);
  const fs = parseFloat(getComputedStyle(d).fontSize);
  d.style.top = (l[2] - fs * 0.52) + 'px';
  els.push([d, l[3]]);
});
function fitAll() {
  els.forEach(function (e) {
    const d = e[0], w = e[1];
    d.style.transform = 'none';
    if (!w) return;
    const nat = d.getBoundingClientRect().width;
    if (nat > 0) {
      let s = w / nat;
      s = Math.max(0.82, Math.min(1.18, s));
      d.style.transform = 'scaleX(' + s.toFixed(4) + ')';
    }
  });
}
fitAll();
if (document.fonts && document.fonts.ready) { document.fonts.ready.then(fitAll); }
</script>
</body>
</html>
